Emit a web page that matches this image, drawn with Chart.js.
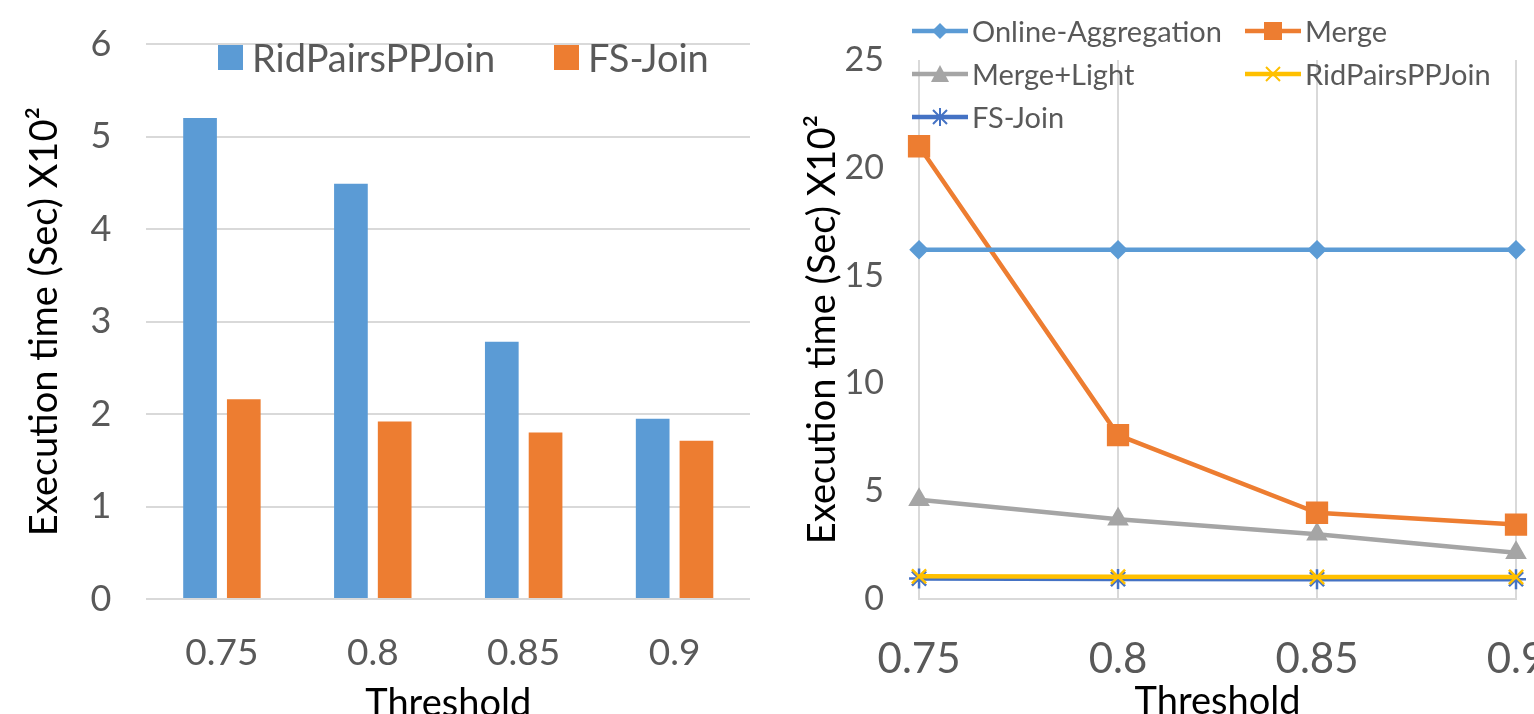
<!DOCTYPE html>
<html>
<head>
<meta charset="utf-8">
<script src="https://cdn.jsdelivr.net/npm/chart.js@4.4.1/dist/chart.umd.min.js"></script>
<style>
  body { margin: 0; width: 1534px; height: 714px; overflow: hidden; background: #fff; position: relative; font-family: Lato, sans-serif; }
  .box { position: absolute; top: 0; }
  #leftBox { left: 0; width: 760px; height: 727px; }
  #rightBox { left: 790px; width: 756px; height: 725px; }
  .leg { position: absolute; display: flex; align-items: center; white-space: nowrap; color: #595959; }
  .sq { display: inline-block; width: 25px; height: 25px; margin-right: 9px; }
</style>
</head>
<body>
<div class="box" id="leftBox"><canvas id="barChart"></canvas></div>
<div class="box" id="rightBox"><canvas id="lineChart"></canvas></div>
<div id="legends"></div>

<script>
// categories
const thresholds = ['0.75', '0.8', '0.85', '0.9'];

// left chart (bars)
const barRidPairs = [5.2, 4.49, 2.78, 1.95];
const barFsJoin = [2.16, 1.92, 1.8, 1.71];

// right chart (lines)
const onlineAgg = [16.2, 16.2, 16.2, 16.2];
const merge = [21.0, 7.6, 4.0, 3.45];
const mergeLight = [4.6, 3.7, 3.0, 2.15];
const ridPairs = [1.05, 1.03, 1.02, 1.02];
const fsJoin = [0.95, 0.93, 0.92, 0.92];

const yTitle = 'Execution time (Sec) X10²';
const xTitle = 'Threshold';
const gridColor = '#D9D9D9';
const tickColor = '#595959';

Chart.defaults.font.family = 'Lato, sans-serif';
Chart.defaults.animation = false;

// let layout.padding alone decide where the plot area sits
const noLabelOverhang = scale => {
  scale.paddingTop = 0;
  scale.paddingBottom = 0;
  scale.paddingLeft = 0;
  scale.paddingRight = 0;
};

const barSets = [
  { label: 'RidPairsPPJoin', data: barRidPairs, backgroundColor: '#5B9BD5' },
  { label: 'FS-Join', data: barFsJoin, backgroundColor: '#ED7D31' },
];

new Chart(document.getElementById('barChart'), {
  type: 'bar',
  data: {
    labels: thresholds,
    datasets: barSets.map(s => ({ ...s, categoryPercentage: 0.58, barPercentage: 0.77 })),
  },
  options: {
    responsive: true,
    maintainAspectRatio: false,
    layout: { padding: { left: 22, top: 44, right: 10, bottom: 0 } },
    plugins: { legend: { display: false }, tooltip: { enabled: false } },
    scales: {
      x: {
        afterFit: noLabelOverhang,
        grid: { display: false },
        border: { display: false },
        ticks: { color: tickColor, font: { size: 37 }, padding: 24 },
        title: { display: true, text: xTitle, color: '#000', font: { size: 38 }, padding: { top: -18, bottom: 0 } },
      },
      y: {
        afterFit: noLabelOverhang,
        min: 0,
        max: 6,
        ticks: { stepSize: 1, color: tickColor, font: { size: 36 }, padding: 35 },
        grid: { color: gridColor, lineWidth: 2, drawTicks: false },
        border: { display: false },
        title: { display: true, text: yTitle, color: '#000', font: { size: 38 }, padding: { top: 0, bottom: -12 } },
      },
    },
  },
});

const lineSets = [
  { label: 'Online-Aggregation', data: onlineAgg, color: '#5B9BD5', pointStyle: 'rectRot', radius: 8 },
  { label: 'Merge', data: merge, color: '#ED7D31', pointStyle: 'rect', radius: 14 },
  { label: 'Merge+Light', data: mergeLight, color: '#A5A5A5', pointStyle: 'triangle', radius: 10 },
  { label: 'RidPairsPPJoin', data: ridPairs, color: '#FFC000', pointStyle: 'crossRot', radius: 10 },
  { label: 'FS-Join', data: fsJoin, color: '#4472C4', pointStyle: 'star', radius: 10 },
];

new Chart(document.getElementById('lineChart'), {
  type: 'line',
  data: {
    labels: thresholds,
    datasets: lineSets.map(s => ({
      label: s.label,
      data: s.data,
      borderColor: s.color,
      backgroundColor: s.color,
      borderWidth: 4.5,
      pointStyle: s.pointStyle,
      pointRadius: s.radius,
      pointBorderWidth: 2.5,
      pointBorderColor: s.color,
      pointBackgroundColor: s.color,
      tension: 0,
    })),
  },
  options: {
    responsive: true,
    maintainAspectRatio: false,
    layout: { padding: { left: 16, top: 60, right: 30, bottom: 0 } },
    plugins: { legend: { display: false }, tooltip: { enabled: false } },
    scales: {
      x: {
        afterFit: noLabelOverhang,
        offset: false,
        grid: { color: gridColor, lineWidth: 2, drawTicks: false },
        border: { display: true, color: gridColor, width: 2 },
        ticks: { color: tickColor, font: { size: 42 }, padding: 35 },
        title: { display: true, text: xTitle, color: '#000', font: { size: 38 }, padding: { top: -40, bottom: 0 } },
      },
      y: {
        afterFit: noLabelOverhang,
        min: 0,
        max: 25,
        ticks: { stepSize: 5, color: tickColor, font: { size: 34 }, padding: 27 },
        grid: { display: false },
        border: { display: false },
        title: { display: true, text: yTitle, color: '#000', font: { size: 38 }, padding: { top: -6, bottom: -28 } },
      },
    },
  },
});

// HTML legends
const legends = document.getElementById('legends');

// left: coloured squares
const leftLegPos = [218, 554];
barSets.forEach((s, i) => {
  const el = document.createElement('div');
  el.className = 'leg';
  el.style.left = leftLegPos[i] + 'px';
  el.style.top = '34px';
  el.style.fontSize = '38px';
  el.innerHTML = '<span class="sq" style="background:' + s.backgroundColor + '"></span>' + s.label;
  legends.appendChild(el);
});

// right: line + marker, two columns
function markerSvg(s) {
  const c = s.color;
  let shape = '';
  if (s.pointStyle === 'rectRot') shape = '<polygon points="28,4 36,12 28,20 20,12" fill="' + c + '"/>';
  if (s.pointStyle === 'rect') shape = '<rect x="19" y="3" width="18" height="18" fill="' + c + '"/>';
  if (s.pointStyle === 'triangle') shape = '<polygon points="28,3 37,20 19,20" fill="' + c + '"/>';
  if (s.pointStyle === 'crossRot') shape = '<path d="M21,5 L35,19 M35,5 L21,19" stroke="' + c + '" stroke-width="2"/>';
  if (s.pointStyle === 'star') shape = '<path d="M21,5 L35,19 M35,5 L21,19 M28,3 L28,21 M19,12 L37,12" stroke="' + c + '" stroke-width="2"/>';
  return '<svg width="56" height="24" style="margin-right:4px"><line x1="0" y1="12" x2="56" y2="12" stroke="' + c + '" stroke-width="4.5"/>' + shape + '</svg>';
}
lineSets.forEach((s, i) => {
  const el = document.createElement('div');
  el.className = 'leg';
  el.style.left = (912 + (i % 2) * 333) + 'px';
  el.style.top = (13 + Math.floor(i / 2) * 43) + 'px';
  el.style.fontSize = '29px';
  el.innerHTML = markerSvg(s) + s.label;
  legends.appendChild(el);
});
</script>
</body>
</html>
